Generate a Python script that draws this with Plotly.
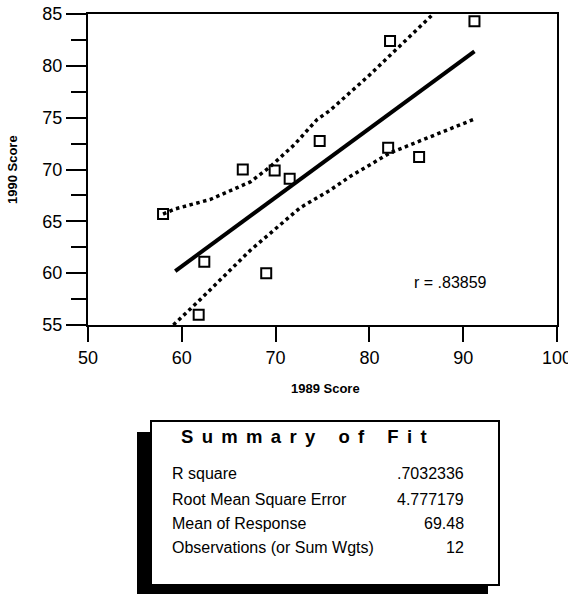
import plotly.graph_objects as go

# ---- data ----
score_1989 = [58.0, 61.8, 62.4, 66.5, 69.0, 69.9, 71.5, 74.7, 82.0, 82.2, 85.3, 91.2]
score_1990 = [65.7, 56.0, 61.1, 70.0, 60.0, 69.9, 69.1, 72.75, 72.1, 82.4, 71.2, 84.3]

fit_x = [59.3, 91.2]
fit_y = [60.2, 81.4]

upper_x = [58.0, 59.3, 63.0, 67.3, 69.4, 72.0, 74.4, 75.8, 80.0, 86.8]
upper_y = [65.7, 66.2, 67.1, 68.8, 70.25, 72.4, 74.8, 75.7, 79.1, 85.0]

lower_x = [59.1, 61.9, 67.3, 72.6, 75.8, 77.9, 82.2, 91.3]
lower_y = [55.0, 57.4, 62.2, 66.3, 68.0, 69.3, 71.6, 74.9]

r_text = "r = .83859"
summary_title = "Summary of Fit"
summary_labels = ["R square", "Root Mean Square Error", "Mean of Response", "Observations (or Sum Wgts)"]
summary_values = [".7032336", "4.777179", "69.48", "12"]

x_ticks = [50, 60, 70, 80, 90, 100]
y_ticks = [55, 60, 65, 70, 75, 80, 85]

# ---- layout geometry (window pixels) ----
W, H = 568, 594
L, T = 88, 14
PLOT_R, PLOT_B = 557, 325
R, B = W - PLOT_R, H - PLOT_B
PW = W - L - R
PH = H - T - B
FONT = "Liberation Sans, Arial, Helvetica, sans-serif"


def px(xw):
    return (xw - L) / PW


def py(yw):
    return (PLOT_B - yw) / PH


fig = go.Figure()

fig.add_trace(go.Scatter(x=fit_x, y=fit_y, mode="lines",
                         line=dict(color="black", width=4), hoverinfo="skip"))
fig.add_trace(go.Scatter(x=upper_x, y=upper_y, mode="lines",
                         line=dict(color="black", width=3.5, dash="3.5px,3.5px"), hoverinfo="skip"))
fig.add_trace(go.Scatter(x=lower_x, y=lower_y, mode="lines",
                         line=dict(color="black", width=3.5, dash="3.5px,3.5px"), hoverinfo="skip"))
fig.add_trace(go.Scatter(x=score_1989, y=score_1990, mode="markers",
                         marker=dict(symbol="square-open", size=10, color="black",
                                     line=dict(color="black", width=2))))

axis_common = dict(showgrid=False, zeroline=False, showline=True, linecolor="black",
                   linewidth=2, mirror=True, ticks="outside", tickcolor="black",
                   tickwidth=2, automargin=False, ticklabeloverflow="allow",
                   tickfont=dict(family=FONT, size=18, color="black"))

fig.update_layout(
    width=W, height=H,
    margin=dict(l=L, r=R, t=T, b=B, autoexpand=False),
    paper_bgcolor="white", plot_bgcolor="white",
    showlegend=False,
    xaxis=dict(range=[50, 100], tickvals=x_ticks, ticklen=15, **axis_common),
    yaxis=dict(range=[55, 85], tickvals=y_ticks, ticklen=20,
               minor=dict(dtick=2.5, tick0=55, ticks="outside", ticklen=15,
                          tickwidth=2, tickcolor="black", showgrid=False),
               **axis_common),
)

ann = []
ann.append(dict(text="<b>1989 Score</b>", x=px(325), y=py(388), xref="paper", yref="paper",
                showarrow=False, font=dict(family=FONT, size=13, color="black"),
                xanchor="center", yanchor="middle"))
ann.append(dict(text="<b>1990 Score</b>", x=px(12), y=py(170), xref="paper", yref="paper",
                showarrow=False, textangle=-90, font=dict(family=FONT, size=13, color="black"),
                xanchor="center", yanchor="middle"))
ann.append(dict(text=r_text, x=px(412), y=py(282), xref="paper", yref="paper",
                showarrow=False, font=dict(family=FONT, size=16, color="black"),
                xanchor="left", yanchor="middle"))

# summary box with drop shadow
shapes = [
    dict(type="rect", xref="paper", yref="paper", x0=px(137), x1=px(488), y0=py(432), y1=py(600),
         fillcolor="black", line=dict(color="black", width=0), layer="above"),
    dict(type="rect", xref="paper", yref="paper", x0=px(151), x1=px(499), y0=py(421), y1=py(585),
         fillcolor="white", line=dict(color="black", width=2), layer="above"),
]

LG = "\u2005\u2009"
WG = "\u2003\u2005"
title_spaced = WG.join(LG.join(list(w)) for w in summary_title.split(" "))
ann.append(dict(text="<b>" + title_spaced + "</b>", x=px(179), y=py(436), xref="paper", yref="paper",
                showarrow=False, font=dict(family=FONT, size=18.5, color="black"),
                xanchor="left", yanchor="middle"))

row_y = [474, 499, 523, 547]
for lab, val, yy in zip(summary_labels, summary_values, row_y):
    ann.append(dict(text=lab, x=px(170), y=py(yy), xref="paper", yref="paper", showarrow=False,
                    font=dict(family=FONT, size=16, color="black"), xanchor="left", yanchor="middle"))
    ann.append(dict(text=val, x=px(466), y=py(yy), xref="paper", yref="paper", showarrow=False,
                    font=dict(family=FONT, size=16, color="black"), xanchor="right", yanchor="middle"))

fig.update_layout(annotations=ann, shapes=shapes)

fig.write_html("out.html", config={"displayModeBar": False},
               post_script="document.body.style.margin='0';")
